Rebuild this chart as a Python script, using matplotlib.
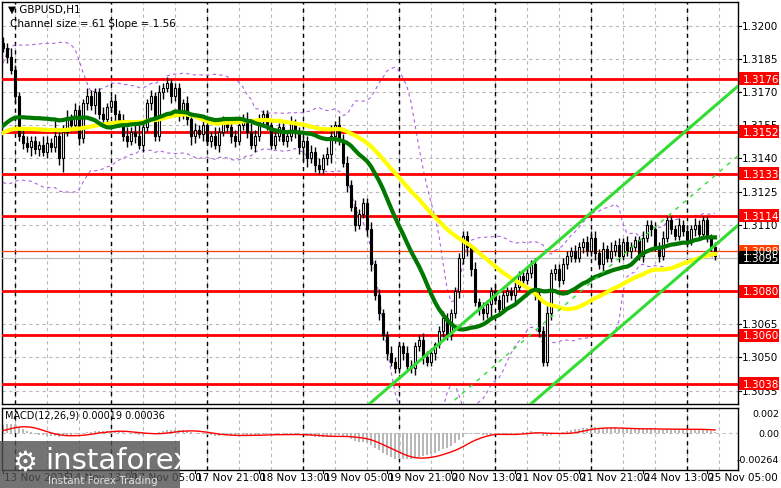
import numpy as np
import pandas as pd
import matplotlib
matplotlib.use("Agg")
import matplotlib.pyplot as plt
from matplotlib.patches import Rectangle

# closes in pips above 1.3000 for bars before the visible window (for averages only)
prior_closes_pips = [150,148,146,149,152,150,147,145,148,151,153,150,148,146,149,151,
 150,147,145,148,150,152,149,147,146,148,150,151,149,147,145,147,
 149,150,148,146,147,149,151,152,150,148,147,149,152,155,160,168,178,186]
# closes in pips above 1.3000, hourly bars from 13 Nov 21:00
closes_pips = [190,186,180,168,
 150,147,145,148,144,146,143,
 147,145,150,140,152,
 158,155,162,149,165,
 168,164,170,160,158,
 163,166,160,157,150,
 148,152,150,146,154,
 165,168,150,170,172,
 174,168,172,160,165,
 158,150,153,151,155,
 148,150,146,152,156,
 154,150,148,155,158,
 152,146,150,158,160,
 155,146,150,154,148,
 150,156,152,145,148,
 140,143,137,135,140,
 142,150,155,148,138,
 128,118,110,115,120,
 108,92,78,70,60,
 52,48,45,55,52,
 46,45,55,58,50,
 48,52,56,62,68,
 60,70,80,95,105,
 100,90,75,72,70,
 74,80,76,72,78,
 80,78,82,87,85,
 88,92,78,62,48,
 70,88,90,85,92,
 96,98,95,100,102,
 98,104,97,92,99,
 95,98,101,96,102,
 98,100,103,96,104,
 110,108,100,96,104,
 112,108,105,110,107,
 103,108,110,106,112,
 104,100,96]
first_open_pips = 192
upper_wick = "3242233222432833423224322322323424532323232222323232242322322343222232323222232323524332322232322322233223321232222221323223222232232322322232232233323242323222322323222323232"
lower_wick = "2323232423232236232323242322332323232322323232343232323223322323232222232336423223432232322332323222322323223232223343233272323232322232233322322322323222322322323232222223232"

levels = [1.3176, 1.3152, 1.3133, 1.3114, 1.3080, 1.3060, 1.3038]
level_orange = 1.3098
last_price = 1.3095
price_ticks = [1.3200,1.3185,1.3170,1.3155,1.3140,1.3125,1.3110,1.3095,1.3080,1.3065,1.3050,1.3035]
macd_ticks = [0.002, 0.0, -0.00264]
macd_tick_labels = ["0.002", "0.00", "-0.00264"]
date_labels = ["13 Nov 2025","14 Nov 13:00","17 Nov 05:00","17 Nov 21:00","18 Nov 13:00",
               "19 Nov 05:00","19 Nov 21:00","20 Nov 13:00","21 Nov 05:00","21 Nov 21:00",
               "24 Nov 13:00","25 Nov 05:00"]
date_label_bars = [0,16,32,48,64,80,96,112,128,144,160,176]
day_sep_bars = [3,27,51,75,99,123,147,171]
chan_bar, chan_upper, chan_lower, chan_slope = 166, 1.3145, 1.3082, 0.000156

c = 1.3 + np.array(closes_pips)/10000.0
n = len(c)
npre = len(prior_closes_pips)
o = np.concatenate([[1.3+first_open_pips/10000.0], c[:-1]])
uw = np.array([int(ch) for ch in upper_wick[:n]] + [2]*(n-len(upper_wick)))/10000.0
lw = np.array([int(ch) for ch in lower_wick[:n]] + [2]*(n-len(lower_wick)))/10000.0
h = np.maximum(o, c) + uw
l = np.minimum(o, c) - lw
idx = np.arange(n)
full = pd.Series(np.concatenate([1.3 + np.array(prior_closes_pips)/10000.0, c]))
green = full.rolling(24).mean().values[npre:]
yellow = full.rolling(50).mean().values[npre:]
bb_mid = full.rolling(20).mean().values[npre:]
bb_sd = full.rolling(20).std().values[npre:]
ema12 = full.ewm(span=12, adjust=False).mean()
ema26 = full.ewm(span=26, adjust=False).mean()
macd_full = ema12 - ema26
macd = macd_full.values[npre:]
signal = macd_full.rolling(9).mean().values[npre:]

W, H = 781, 489
fig = plt.figure(figsize=(W/100, H/100), dpi=100)
fig.patch.set_facecolor("white")
def axrect(x0, y0, x1, y1):
    return [x0/W, 1-y1/H, (x1-x0)/W, (y1-y0)/H]
ax = fig.add_axes(axrect(2, 3, 738, 405))
ax2 = fig.add_axes(axrect(2, 409, 738, 471))
xl = (-0.25, (738-2)/4 - 0.25)
ylo, yhi = 1.30289, 1.32107
for a in (ax, ax2):
    a.set_xlim(*xl)
    a.set_xticks([])
    a.set_yticks([])
    for sp in a.spines.values():
        sp.set_color("black"); sp.set_linewidth(1)
ax.set_ylim(ylo, yhi)
k = min(macd.min(), -1e-6) / -0.00264
ax2.set_ylim(-0.00374*k, 0.00258*k)

grid_kw = dict(color="#b8b8b8", lw=0.8, ls=(0, (3, 3)), zorder=0)
for t in price_ticks:
    ax.axhline(t, **grid_kw)
for g in range(3, 184, 8):
    ax.axvline(g, **grid_kw); ax2.axvline(g, **grid_kw)
for d in day_sep_bars:
    ax.axvline(d, color="black", lw=1, ls=(0, (3, 3)), zorder=1)
    ax2.axvline(d, color="black", lw=1, ls=(0, (3, 3)), zorder=1)

ax.plot(idx, bb_mid + 2*bb_sd, color="#b060e0", lw=0.8, ls=(0, (3, 3)), zorder=2)
ax.plot(idx, bb_mid - 2*bb_sd, color="#b060e0", lw=0.8, ls=(0, (3, 3)), zorder=2)

for lv in levels:
    ax.axhline(lv, color="#ff0000", lw=2, zorder=3)
ax.axhline(level_orange, color="#ff4000", lw=0.9, zorder=3)
ax.axhline(last_price, color="#c0c0c0", lw=0.9, zorder=3)

ax.vlines(idx, l, h, color="black", lw=1, zorder=4)
up = c >= o
bot = np.minimum(o, c); ht = np.maximum(np.abs(c-o), 0.00004)
ax.bar(idx[up], ht[up], bottom=bot[up], width=0.7, color="white", edgecolor="black", lw=0.8, zorder=5)
ax.bar(idx[~up], ht[~up], bottom=bot[~up], width=0.7, color="black", edgecolor="black", lw=0.8, zorder=5)

ax.plot(idx, yellow, color="#ffff00", lw=3, zorder=6)
ax.plot(idx, green, color="#007800", lw=3, zorder=6)

cx = np.array([80, 184])
ax.plot(cx, chan_upper + chan_slope*(cx-chan_bar), color="#32dc32", lw=2.2, zorder=7)
ax.plot(cx, chan_lower + chan_slope*(cx-chan_bar), color="#32dc32", lw=2.2, zorder=7)
ax.plot(cx, (chan_upper+chan_lower)/2 + chan_slope*(cx-chan_bar), color="#32dc32", lw=1, ls=(0, (3, 4)), zorder=7)

def ypx(p):
    return 3 + (yhi - p)/(yhi - ylo)*402
for t in price_ticks:
    fig.text(742/W, 1-ypx(t)/H, f"{t:.4f}", fontsize=7.5, va="center", ha="left", color="black")
    fig.add_artist(plt.Line2D([738/W, 741/W], [1-ypx(t)/H]*2, color="black", lw=0.8))
def tag(p, fc, tc):
    y = 1-ypx(p)/H
    fig.add_artist(Rectangle((739/W, y-6.5/H), 40/W, 13/H, facecolor=fc, edgecolor="none", zorder=10))
    fig.text(743/W, y, f"{p:.4f}", fontsize=7.5, va="center", ha="left", color=tc, zorder=11)
for lv in levels:
    tag(lv, "#ff0000", "white")
tag(level_orange, "#ff4000", "white")
tag(last_price, "black", "white")

fig.text(8/W, 1-10/H, "▼ GBPUSD,H1", fontsize=7.5, va="center", ha="left")
fig.text(10/W, 1-24/H, "Channel size = 61 Slope = 1.56", fontsize=7.5, va="center", ha="left")

ax2.bar(idx, macd, width=0.6, color="#b8b8b8", zorder=2)
ax2.plot(idx, signal, color="#ff0000", lw=1, zorder=3)
ax2.axhline(0, color="#c0c0c0", lw=0.8, ls=(0, (3, 3)), zorder=1)
fig.text(5/W, 1-416/H, "MACD(12,26,9) 0.00019 0.00036", fontsize=7, va="center", ha="left", zorder=5)
for v, lab in zip(macd_ticks, macd_tick_labels):
    yy = 409 + (0.00258 - v)/(0.00258+0.00374)*62
    fig.text(779/W, 1-yy/H, lab, fontsize=6.8, va="center", ha="right")

for b, lab in zip(date_label_bars, date_labels):
    xpx = 2 + (b+0.25)*4
    fig.text((xpx+1)/W, 1-478/H, lab, fontsize=7.5, va="center", ha="left")
    fig.add_artist(plt.Line2D([xpx/W]*2, [1-471/H, 1-474/H], color="black", lw=0.8))

fig.add_artist(Rectangle((0, 0), 180/W, 47/H, facecolor="#505050", alpha=0.8, edgecolor="none", zorder=20))
fig.text(12/W, 1-463/H, "⚙", fontsize=20, color="white", va="center", ha="left", zorder=21)
fig.text(45/W, 1-461/H, "instaforex", fontsize=21, color="white", va="center", ha="left", zorder=21)
fig.text(48/W, 1-481/H, "Instant Forex Trading", fontsize=7.5, color="#e0e0e0", va="center", ha="left", zorder=21)

fig.savefig("out.png", dpi=100, facecolor="white")
